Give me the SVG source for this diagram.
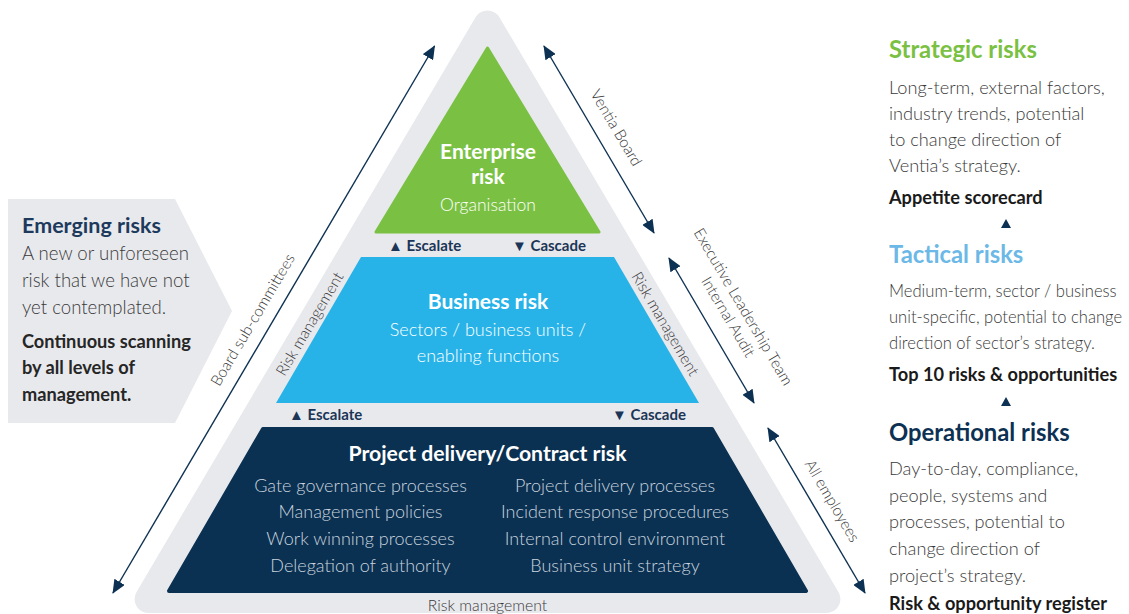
<svg xmlns="http://www.w3.org/2000/svg" width="1129" height="614" viewBox="0 0 1129 614">
<style>
.lt{font-family:Lato,"Source Sans Pro","Liberation Sans",sans-serif;font-weight:300}
.bd{font-family:Lato,"Source Sans Pro","Liberation Sans",sans-serif;font-weight:700}
.body{font-size:18.2px;fill:#3a3a3a}
.tac{font-size:16.6px;fill:#3a3a3a}
.em{font-size:18.6px;fill:#3a3a3a}
.rot{font-size:15.5px;fill:#3a3a3a;text-anchor:middle}
.esc{font-size:15px;fill:#1b3556}
.conn{stroke:#0d3152;stroke-width:1.4;fill:none;marker-start:url(#ah);marker-end:url(#ah)}
.wc{fill:#fff;text-anchor:middle}
.pl{fill:#c8d3df;font-size:18px;text-anchor:middle}
</style>
<defs>
<marker id="ah" viewBox="0 0 14 12" refX="13" refY="6" markerWidth="14" markerHeight="12" markerUnits="userSpaceOnUse" orient="auto-start-reverse">
<path d="M0,0 L14,6 L0,12 z" fill="#0d3152"/>
</marker>
</defs>
<rect width="1129" height="614" fill="#fff"/>

<g id="pyramid-band">
<polygon points="487.5,24.6 826.4,599 148.6,599" fill="#e8e9ed" stroke="#e8e9ed" stroke-width="28" stroke-linejoin="round"/>
<text class="lt" x="487.5" y="611" font-size="15.8" fill="#3a3a3a" text-anchor="middle">Risk management</text>
</g>

<g id="enterprise">
<polygon points="487.5,48 599,232 376,232" fill="#7ac143" stroke="#7ac143" stroke-width="3" stroke-linejoin="round"/>
<text class="bd wc" x="488" y="159" font-size="21">Enterprise</text>
<text class="bd wc" x="488" y="184" font-size="21">risk</text>
<text class="lt wc" x="488" y="211" font-size="17.5" fill="#e9f4df">Organisation</text>
</g>

<g id="escalate-1">
<text class="bd esc" x="388" y="251">▲ Escalate</text>
<text class="bd esc" x="512" y="251">▼ Cascade</text>
</g>

<g id="business">
<polygon points="361,257 614,257 699,403 276,403" fill="#27b3e8"/>
<text class="bd wc" x="488" y="309" font-size="21">Business risk</text>
<text class="lt wc" x="488" y="336" font-size="18" fill="#dff2fb">Sectors / business units /</text>
<text class="lt wc" x="488" y="362" font-size="18" fill="#dff2fb">enabling functions</text>
</g>

<g id="escalate-2">
<text class="bd esc" x="289" y="420">▲ Escalate</text>
<text class="bd esc" x="612" y="420">▼ Cascade</text>
</g>

<g id="project">
<polygon points="263,429 712,429 806,591 169,591" fill="#0b3152" stroke="#0b3152" stroke-width="4" stroke-linejoin="round"/>
<text class="bd wc" x="487.5" y="461" font-size="21.2">Project delivery/Contract risk</text>
<text class="lt pl" x="360.5" y="492">Gate governance processes</text>
<text class="lt pl" x="360.5" y="518">Management policies</text>
<text class="lt pl" x="360.5" y="545">Work winning processes</text>
<text class="lt pl" x="360.5" y="572">Delegation of authority</text>
<text class="lt pl" x="615" y="492">Project delivery processes</text>
<text class="lt pl" x="615" y="518">Incident response procedures</text>
<text class="lt pl" x="615" y="545">Internal control environment</text>
<text class="lt pl" x="615" y="572">Business unit strategy</text>
</g>

<g id="inner-labels">
<text class="lt rot" transform="translate(310,324) rotate(-59.5)" y="5">Risk management</text>
<text class="lt rot" transform="translate(665,324) rotate(59.5)" y="5">Risk management</text>
</g>

<g id="connectors">
<line class="conn" x1="434.5" y1="46" x2="113" y2="593"/>
<line class="conn" x1="544" y1="46" x2="654" y2="233"/>
<line class="conn" x1="669" y1="258" x2="754" y2="403"/>
<line class="conn" x1="768" y1="428" x2="865" y2="593"/>
<text class="lt rot" transform="translate(253,320) rotate(-59.5)" y="5">Board sub-committees</text>
<text class="lt rot" transform="translate(616,128) rotate(59.5)" y="5">Ventia Board</text>
<text class="lt rot" transform="translate(743,307) rotate(59.5)" y="5">Executive Leadership Team</text>
<text class="lt rot" transform="translate(728,317) rotate(59.5)" y="5">Internal Audit</text>
<text class="lt rot" transform="translate(832,501) rotate(59.5)" y="5">All employees</text>
</g>

<g id="emerging">
<polygon points="8,199 175,199 232,311 175,423 8,423" fill="#e8e9ed"/>
<text class="bd" x="22" y="233" font-size="21.5" fill="#1d3a5c">Emerging risks</text>
<text class="lt em" x="22" y="260">A new or unforeseen</text>
<text class="lt em" x="22" y="287">risk that we have not</text>
<text class="lt em" x="22" y="314">yet contemplated.</text>
<text class="bd" x="22" y="348" font-size="18.2" fill="#262626">Continuous scanning</text>
<text class="bd" x="22" y="374" font-size="18.2" fill="#262626">by all levels of</text>
<text class="bd" x="22" y="401" font-size="18.2" fill="#262626">management.</text>
</g>

<g id="strategic">
<text class="bd" x="889" y="58" font-size="23.8" fill="#7ac143">Strategic risks</text>
<text class="lt body" x="889" y="94">Long-term, external factors,</text>
<text class="lt body" x="889" y="120">industry trends, potential</text>
<text class="lt body" x="889" y="146">to change direction of</text>
<text class="lt body" x="889" y="172">Ventia’s strategy.</text>
<text class="bd" x="889" y="204" font-size="18.2" fill="#1a1a1a">Appetite scorecard</text>
<polygon points="1006,219 1011,228 1001,228" fill="#0d3152"/>
</g>

<g id="tactical">
<text class="bd" x="889" y="263" font-size="23.8" fill="#6cb8e6">Tactical risks</text>
<text class="lt tac" x="889" y="297">Medium-term, sector / business</text>
<text class="lt tac" x="889" y="323">unit-specific, potential to change</text>
<text class="lt tac" x="889" y="349">direction of sector’s strategy.</text>
<text class="bd" x="889" y="381" font-size="18.2" fill="#1a1a1a">Top 10 risks &amp; opportunities</text>
<polygon points="1006,397 1011,406 1001,406" fill="#0d3152"/>
</g>

<g id="operational">
<text class="bd" x="889" y="441" font-size="23.8" fill="#0d3152">Operational risks</text>
<text class="lt body" x="889" y="475">Day-to-day, compliance,</text>
<text class="lt body" x="889" y="502">people, systems and</text>
<text class="lt body" x="889" y="528">processes, potential to</text>
<text class="lt body" x="889" y="555">change direction of</text>
<text class="lt body" x="889" y="582">project’s strategy.</text>
<text class="bd" x="889" y="610" font-size="18.2" fill="#1a1a1a">Risk &amp; opportunity register</text>
</g>
</svg>
